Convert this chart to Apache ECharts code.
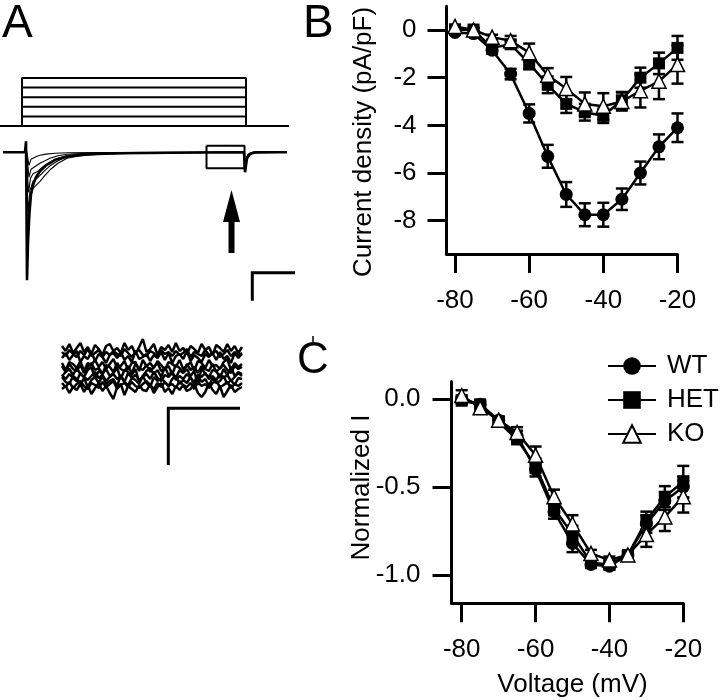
<!DOCTYPE html>
<html><head><meta charset="utf-8">
<script src="https://cdn.jsdelivr.net/npm/echarts@6/dist/echarts.min.js"></script>
<style>html,body{margin:0;padding:0;background:#fff}#c{width:720px;height:700px}</style>
</head><body><div id="c"></div>
<script>
// ---------- Panel B / C data ----------
const volts = [-80,-75,-70,-65,-60,-55,-50,-45,-40,-35,-30,-25,-20];
const wtB    = [-0.1,-0.15,-0.85,-1.85,-3.5,-5.3,-6.9,-7.75,-7.75,-7.1,-6.0,-4.9,-4.1];
const wtBErr = [0.08,0.1,0.15,0.22,0.38,0.48,0.52,0.48,0.5,0.45,0.48,0.52,0.6];
const hetB    = [0.0,0.02,-0.75,-0.6,-1.4,-2.3,-3.1,-3.45,-3.6,-2.95,-2.0,-1.4,-0.75];
const hetBErr = [0.08,0.08,0.12,0.15,0.25,0.35,0.38,0.35,0.3,0.35,0.42,0.45,0.5];
const koB    = [0.15,0.0,-0.3,-0.45,-0.95,-1.9,-2.45,-3.1,-3.2,-3.0,-2.55,-2.15,-1.45];
const koBErr = [0.08,0.08,0.1,0.2,0.38,0.3,0.48,0.48,0.55,0.38,0.7,0.75,0.8];

const wtC    = [0.0,-0.03,-0.12,-0.21,-0.40,-0.64,-0.82,-0.94,-0.95,-0.886,-0.71,-0.58,-0.50];
const wtCErr = [0.02,0.02,0.02,0.03,0.04,0.04,0.05,0.02,0.02,0.02,0.05,0.05,0.06];
const hetC    = [-0.01,-0.03,-0.13,-0.23,-0.38,-0.62,-0.77,-0.93,-0.94,-0.886,-0.69,-0.555,-0.47];
const hetCErr = [0.02,0.02,0.02,0.02,0.04,0.04,0.05,0.02,0.02,0.02,0.05,0.06,0.09];
const koC    = [0.02,-0.05,-0.12,-0.19,-0.32,-0.555,-0.71,-0.877,-0.915,-0.886,-0.77,-0.67,-0.555];
const koCErr = [0.03,0.02,0.02,0.03,0.05,0.04,0.05,0.02,0.02,0.02,0.07,0.08,0.09];

const xTicks = [-80,-60,-40,-20];
const yTicksB = [0,-2,-4,-6,-8];
const yTicksC = [0,-0.5,-1.0];

// ---------- Panel A data ----------
const holdingMv = -90;
const stepLevels = [-80,-70,-60,-50,-40];
const stepOn = 22, stepOff = 246, sweepEnd = 289;

const trace1 = [[3,0],[25,0],[26,110],[27,-1280],[28,-900],[29.5,-600],[31,-420],[33,-330],[36,-250],[40,-190],[46,-130],[55,-75],[70,-38],[90,-20],[120,-10],[170,-5],[244,0],[245,-200],[247,-60],[250,-15],[256,0],[287,0]];
const trace2 = [[3,0],[25,0],[26,90],[27.5,-900],[29,-560],[31,-430],[33,-360],[36,-330],[40,-290],[45,-230],[50,-175],[58,-110],[67,-60],[80,-35],[100,-18],[140,-8],[200,0],[244,0],[245,-170],[247,-50],[252,-10],[287,0]];
const trace3 = [[3,0],[25,0],[26,80],[28,-600],[30,-380],[33,-290],[37,-260],[40,-230],[45,-180],[50,-135],[58,-85],[67,-45],[85,-25],[110,-12],[150,-5],[244,0],[245,-150],[248,-40],[253,0],[287,0]];
const trace4 = [[3,0],[25,0],[26,70],[28.5,-400],[30.5,-260],[33,-215],[37,-195],[40,-170],[45,-130],[50,-100],[58,-60],[67,-32],[80,-18],[105,-8],[150,-3],[244,0],[245,-120],[248,-30],[253,0],[287,0]];
const trace5 = [[3,0],[25,0],[26,60],[29,-250],[31,-170],[33,-150],[37,-130],[40,-110],[45,-85],[50,-60],[58,-35],[67,-20],[85,-10],[120,-3],[244,0],[245,-100],[248,-25],[253,0],[287,0]];
const trace6 = [[3,0],[25,0],[26,50],[29,-130],[31,-70],[33,-50],[37,-40],[40,-30],[46,-18],[55,-10],[68,-5],[100,-2],[244,0],[245,-80],[248,-20],[253,0],[287,0]];
const boxCorners = [[206.5,66],[244.5,66],[244.5,-160],[206.5,-160],[206.5,66]];

const noise1 = [23,18,25,16,21,26,17,22,15,24,20,14,23,25,18,21,16,26,19,23,15,22,30,17,20,25,14,22,19,24,17,26,18,21,15,23,20,16,25,19,22,14,24,21,17,25,18,23,16,22];
const noise2 = [11,16,9,14,18,7,13,10,17,8,15,12,6,14,16,11,17,9,13,7,18,10,12,15,8,14,11,17,9,16,6,13,15,10,18,8,14,11,7,15,12,16,9,17,10,13,6,16,11,15];
const noise3 = [6,-1,7,5,1,8,-2,6,4,9,2,7,0,5,10,1,3,8,-1,6,7,-2,9,3,6,1,8,4,-1,7,5,2,9,0,3,7,-2,8,6,1,9,3,4,0,7,10,-1,6,2,5];
const noise4 = [-7,-3,0,-6,1,-5,-8,-1,2,-9,-2,-5,0,-7,-4,1,-10,-1,-3,-6,0,-13,-7,-2,1,-5,-1,-8,2,-6,-3,-9,-1,-4,0,-7,-2,-16,1,-5,-8,-1,-2,-9,0,-6,2,-7,-3,-5];
const noise5 = [-8,-13,-15,-7,-10,-16,-9,-18,-11,-8,-14,-7,-15,-12,-10,-17,-6,-13,-16,-9,-11,-15,-7,-14,-18,-8,-12,-9,-13,-17,-10,-7,-15,-11,-14,-8,-16,-6,-13,-10,-17,-9,-14,-12,-7,-15,-11,-16,-9,-10];
const noise6 = [-20,-17,-24,-18,-21,-15,-23,-16,-25,-19,-14,-22,-17,-24,-30,-18,-15,-26,-17,-20,-23,-16,-21,-22,-15,-24,-18,-14,-23,-19,-25,-17,-21,-16,-22,-20,-15,-24,-28,-23,-14,-21,-25,-17,-28,-22,-16,-23,-20,-18];
const noise7 = [3,-3,5,0,-2,4,-4,2,6,-1,1,-5,4,2,-3,6,0,-2,3,-4,5,1,-1,4,-3,2,6,-2,0,3,-5,4,1,-3,5,-1,2,-4,3,0,-2,5,-3,1,4,-1,-4,3,0,2];
const noise8 = [17,13,19,15,12,18,14,20,13,16,19,12,17,14,18,15,13,20,16,12,17,19,14,13,18,16,12,19,15,17,13,18,14,16,20,12,17,15,13,19,14,16,18,12,15,19,13,17,14,16];
const noise9 = [-14,-18,-13,-19,-15,-12,-17,-20,-14,-16,-19,-13,-18,-15,-12,-20,-16,-14,-18,-13,-17,-19,-15,-12,-16,-20,-14,-18,-13,-17,-15,-19,-12,-16,-18,-14,-20,-13,-17,-15,-19,-14,-12,-18,-16,-13,-19,-15,-17,-14];
const noise10 = [-6,-10,-5,-9,-12,-4,-8,-11,-7,-3,-9,-6,-12,-8,-5,-10,-7,-13,-4,-9,-6,-11,-8,-5,-10,-3,-9,-12,-6,-8,-4,-11,-7,-10,-5,-9,-13,-6,-8,-4,-10,-7,-11,-5,-9,-6,-12,-8,-4,-7];

// ---------- build ----------
const FONT = '"Liberation Sans", Arial, Helvetica, sans-serif';
const chart = echarts.init(document.getElementById('c'), null, {renderer:'canvas'});

function hiddenAxis(gi, type, min, max) {
  return {gridIndex: gi, type, min, max, show: false, boundaryGap: type === 'category' ? false : undefined};
}
function visAxis(gi, min, max, ticks, fmt, margin) {
  return {
    gridIndex: gi, type: 'value', min, max,
    axisLine: {show: true, onZero: false, lineStyle: {color: '#000', width: 3}},
    axisTick: {show: true, length: 19, inside: false, customValues: ticks, lineStyle: {color: '#000', width: 3}},
    axisLabel: {show: true, customValues: ticks, margin, color: '#000', fontSize: 26, fontFamily: FONT,
      formatter: fmt},
    splitLine: {show: false}
  };
}

const grids = [
  {left: 0, top: 68.4, width: 290, height: 67.2},
  {left: 0, top: 140.3, width: 290, height: 152},
  {left: 62, top: 335, width: 180, height: 68},
  {left: 446.5, top: 6.16, width: 231, height: 247.9},
  {left: 451.5, top: 381.4, width: 231.8, height: 221.8}
].map(g => Object.assign({containLabel: false, outerBoundsMode: 'none', show: false}, g));

const noiseIdx = noise1.map((_, i) => i);

const xAxes = [
  hiddenAxis(0, 'value', 0, 290),
  hiddenAxis(1, 'value', 0, 290),
  Object.assign(hiddenAxis(2, 'category'), {data: noiseIdx}),
  visAxis(3, -82.29, -20, xTicks, v => String(v), 34),
  visAxis(4, -82.76, -20, xTicks, v => String(v), 34)
];
const yAxes = [
  hiddenAxis(0, 'value', -100, -30),
  hiddenAxis(1, 'value', -1400, 120),
  hiddenAxis(2, 'value', -34, 34),
  visAxis(3, -9.4, 1, yTicksB, v => String(v), 30),
  visAxis(4, -1.16, 0.1, yTicksC, v => Number(v).toFixed(1), 31)
];

const series = [];
// protocol
series.push({type: 'line', xAxisIndex: 0, yAxisIndex: 0, data: [[0, holdingMv], [sweepEnd, holdingMv]],
  symbol: 'none', lineStyle: {color: '#000', width: 2}, silent: true});
stepLevels.forEach(v => series.push({type: 'line', xAxisIndex: 0, yAxisIndex: 0,
  data: [[stepOn, holdingMv], [stepOn, v], [stepOff, v], [stepOff, holdingMv]],
  symbol: 'none', lineStyle: {color: '#000', width: 2}, silent: true}));
// current traces
[trace6, trace5, trace4, trace3, trace2, trace1].forEach((t, i) => series.push({type: 'line', xAxisIndex: 1, yAxisIndex: 1,
  data: t, symbol: 'none', lineStyle: {color: '#000', width: i === 5 ? 2.6 : 1.1}, silent: true}));
series.push({type: 'line', xAxisIndex: 1, yAxisIndex: 1, data: boxCorners, symbol: 'none',
  lineStyle: {color: '#000', width: 2}, silent: true});
// noise traces
[noise1, noise8, noise2, noise3, noise7, noise4, noise10, noise5, noise9, noise6].forEach(n => series.push({type: 'line', xAxisIndex: 2, yAxisIndex: 2,
  data: n, symbol: 'none', lineStyle: {color: '#000', width: 2.5}, silent: true}));

function errSeries(gi, vals, errs) {
  return {type: 'custom', xAxisIndex: gi, yAxisIndex: gi, silent: true, z: 2,
    data: volts.map((v, i) => [v, vals[i], errs[i]]),
    encode: {x: 0, y: 1},
    renderItem(params, api) {
      const x = api.value(0), y = api.value(1), e = api.value(2);
      const t = api.coord([x, y + e]), b = api.coord([x, y - e]);
      const hw = 6, st = {stroke: '#000', lineWidth: 2.5};
      return {type: 'group', children: [
        {type: 'line', shape: {x1: t[0], y1: t[1], x2: b[0], y2: b[1]}, style: st},
        {type: 'line', shape: {x1: t[0] - hw, y1: t[1], x2: t[0] + hw, y2: t[1]}, style: st},
        {type: 'line', shape: {x1: b[0] - hw, y1: b[1], x2: b[0] + hw, y2: b[1]}, style: st}
      ]};
    }};
}
const styles = {
  WT: {symbol: 'circle', symbolSize: 13, itemStyle: {color: '#000'}},
  HET: {symbol: 'rect', symbolSize: 12, itemStyle: {color: '#000'}},
  KO: {symbol: 'triangle', symbolSize: 14, itemStyle: {color: '#fff', borderColor: '#000', borderWidth: 1.5}}
};
function lineSeries(gi, name, vals) {
  return Object.assign({type: 'line', name, xAxisIndex: gi, yAxisIndex: gi, z: 3,
    data: volts.map((v, i) => [v, vals[i]]),
    lineStyle: {color: '#000', width: 2.5}, silent: true}, styles[name]);
}
[[3, wtB, wtBErr, hetB, hetBErr, koB, koBErr], [4, wtC, wtCErr, hetC, hetCErr, koC, koCErr]].forEach(p => {
  series.push(errSeries(p[0], p[1], p[2]));
  series.push(lineSeries(p[0], 'WT', p[1]));
  series.push(errSeries(p[0], p[3], p[4]));
  series.push(lineSeries(p[0], 'HET', p[3]));
  series.push(errSeries(p[0], p[5], p[6]));
  series.push(lineSeries(p[0], 'KO', p[5]));
});

function txt(text, x, y, size, opts) {
  return Object.assign({type: 'text', x, y, silent: true,
    style: Object.assign({text, fill: '#000', font: size + 'px ' + FONT, textAlign: 'left', textVerticalAlign: 'middle'}, opts || {})});
}
const graphic = [
  txt('A', 2, 24, 46),
  txt('B', 303, 24, 46),
  txt('C', 297, 361, 44),
  {type: 'line', silent: true, shape: {x1: 313, y1: 336, x2: 313, y2: 342}, style: {stroke: '#000', lineWidth: 1.5}},
  Object.assign(txt('Current density (pA/pF)', 363.5, 142, 26, {textAlign: 'center'}), {rotation: Math.PI / 2}),
  Object.assign(txt('Normalized I', 362, 487.5, 26, {textAlign: 'center'}), {rotation: Math.PI / 2}),
  txt('Voltage (mV)', 572.5, 685, 26, {textAlign: 'center'}),
  // arrow
  {type: 'polygon', silent: true, shape: {points: [[223, 222], [240, 222], [231.5, 190]]}, style: {fill: '#000'}},
  {type: 'rect', silent: true, shape: {x: 228.5, y: 220, width: 6, height: 33}, style: {fill: '#000'}},
  // scale bars
  {type: 'polyline', silent: true, shape: {points: [[252.3, 300.7], [252.3, 272.7], [295, 272.7]]}, style: {stroke: '#000', lineWidth: 3, fill: null}},
  {type: 'polyline', silent: true, shape: {points: [[168.3, 465], [168.3, 408.3], [240, 408.3]]}, style: {stroke: '#000', lineWidth: 3, fill: null}}
];

chart.setOption({
  animation: false,
  backgroundColor: '#fff',
  textStyle: {fontFamily: FONT, color: '#000'},
  grid: grids,
  xAxis: xAxes,
  yAxis: yAxes,
  legend: {data: ['WT', 'HET', 'KO'], orient: 'vertical', left: 607, top: 353, itemWidth: 48, itemHeight: 22,
    itemGap: 8, selectedMode: false, padding: 0,
    textStyle: {fontSize: 26, color: '#000', fontFamily: FONT, lineHeight: 26, padding: [0, 0, 0, 6]}},
  series,
  graphic
});
</script></body></html>
